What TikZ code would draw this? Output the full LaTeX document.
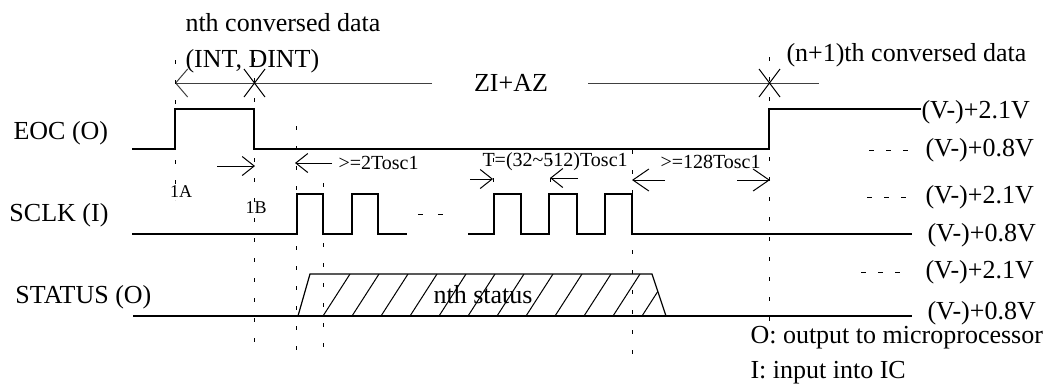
\documentclass[tikz,border=0pt]{standalone}
\usepackage{fontspec}
\setmainfont{Liberation Serif}
\usepackage{tikz}
\usetikzlibrary{arrows.meta}
\usetikzlibrary{positioning}

\begin{document}
\begin{tikzpicture}[x=0.5pt,y=-0.5pt,line width=0.5pt,
	sig/.style={line width=0.6pt},
	guide/.style={line width=0.5pt,dash pattern=on 2pt off 8pt},
	lvl/.style={line width=0.5pt,dash pattern=on 2.5pt off 6pt},
	tipsmall/.style={-{Straight Barb[length=6pt,width=9.5pt]}},
	tipbig/.style={-{Straight Barb[length=8pt,width=11pt]}},
	tiptop/.style={-{Straight Barb[length=6pt,width=14pt]}},
	lbl/.style={font=\fontsize{13}{15}\selectfont,inner sep=0pt},
	note/.style={font=\fontsize{10}{12}\selectfont,inner sep=0pt},
	tag/.style={font=\fontsize{9}{11}\selectfont,inner sep=0pt}]
	\useasboundingbox (0,0) rectangle (1048,388);
	% signal names
	\node[lbl,anchor=west] (eoc) at (13,133) {EOC (O)};
	\node[lbl,anchor=west] (sclk) at (9,215) {SCLK (I)};
	\node[lbl,anchor=west] (status) at (15,297) {STATUS (O)};
	% levels
	\node[lbl,anchor=west] (eochi) at (921,112) {(V-)+2.1V};
	\node[lbl,anchor=west] (eoclo) at (925,150) {(V-)+0.8V};
	\node[lbl,anchor=west] (sclkhi) at (925,197) {(V-)+2.1V};
	\node[lbl,anchor=west] (sclklo) at (927,235) {(V-)+0.8V};
	\node[lbl,anchor=west] (sthi) at (925,272) {(V-)+2.1V};
	\node[lbl,anchor=west] (stlo) at (927,313) {(V-)+0.8V};
	\draw[lvl] ([xshift=-28pt]eoclo.west) -- ([xshift=-8pt]eoclo.west);
	\draw[lvl] ([xshift=-29pt]sclkhi.west) -- ([xshift=-9pt]sclkhi.west);
	\draw[lvl] ([xshift=-32pt]sthi.west) -- ([xshift=-12pt]sthi.west);
	% top
	\node[lbl,anchor=base west] (ndata) at (185,31) {nth conversed data};
	\node[lbl,anchor=base west] (intd) at (185,67) {(INT, DINT)};
	\node[lbl,anchor=west] (n1data) at (786,55) {(n+1)th conversed data};
	\node[lbl] (ziaz) at (511,83) {ZI+AZ};
	\coordinate (zl) at (175,83);
	\coordinate (zgl) at (432,83);
	\coordinate (zgr) at (588,83);
	\coordinate (zr) at (819,83);
	\path (zgl) edge[tiptop,black!75] (zl)
		(zgr) edge[black!75] (zr);
	\draw (244,69) -- (265,97) (244,97) -- (265,69);
	\draw (759,69) -- (780,97) (759,97) -- (780,69);
	% guides
	\draw[guide] (175,60) -- (175,200);
	\draw[guide] (254,58) -- (254,355);
	\draw[guide] (296,126) -- (296,353);
	\draw[guide] (323,183) -- (323,360);
	\draw[guide] (493,158) -- (493,194);
	\draw[guide] (550,158) -- (550,194);
	\draw[guide] (632,150) -- (632,357);
	\draw[guide] (769,57) -- (769,330);
	% EOC
	\draw[sig] (132,149) -- (175,149) -- (175,109) -- (254,109) -- (254,149)
		-- (769,149) -- (769,109) -- (eochi.west |- 0,109);
	% SCLK
	\draw[sig] (132,234) -- (297,234) -- (297,194) -- (323,194) -- (323,234)
		-- (352,234) -- (352,194) -- (378,194) -- (378,234) -- (407,234);
	\draw (418,214) -- (423,214) (438,214) -- (443,214);
	\draw[sig] (468,234) -- (494,234) -- (494,194) -- (521,194) -- (521,234)
		-- (549,234) -- (549,194) -- (577,194) -- (577,234) -- (605,234)
		-- (605,194) -- (632,194) -- (632,234) -- (912,234);
	% STATUS
	\draw[sig] (133,316) -- (912,316);
	\draw[sig] (298,316) -- (310,274) -- (652,274) -- (666,316);
	\begin{scope}
		\clip (298,316) -- (310,274) -- (652,274) -- (666,316) -- cycle;
		\draw (323,316) -- ++(27,-42) (352,316) -- ++(27,-42)
			(381,316) -- ++(27,-42) (410,316) -- ++(27,-42)
			(439,316) -- ++(27,-42) (468,316) -- ++(27,-42)
			(497,316) -- ++(27,-42) (526,316) -- ++(27,-42)
			(555,316) -- ++(27,-42) (584,316) -- ++(27,-42)
			(613,316) -- ++(27,-42) (642,316) -- ++(27,-42);
	\end{scope}
	\node[lbl] (nstat) at (483,295) {nth status};
	% timing marks
	\node[tag] (t1a) at (181,192) {1A};
	\node[tag] (t1b) at (256,208) {1B};
	\coordinate (a1s) at (217,166);
	\coordinate (a1e) at (255,166);
	\coordinate (a2s) at (332,163);
	\coordinate (a2e) at (295,163);
	\coordinate (a3s) at (470,179);
	\coordinate (a3e) at (493,179);
	\coordinate (a4s) at (578,178);
	\coordinate (a4e) at (550,178);
	\coordinate (a5s) at (665,180);
	\coordinate (a5e) at (632,180);
	\coordinate (a6s) at (737,180);
	\coordinate (a6e) at (770,180);
	\path (a1s) edge[tipsmall] (a1e)
		(a2s) edge[tipsmall] (a2e)
		(a3s) edge[tipsmall] (a3e)
		(a4s) edge[tipsmall] (a4e)
		(a5s) edge[tipbig] (a5e)
		(a6s) edge[tipbig] (a6e);
	\node[note,anchor=west] (gt2) at (338,163) {>=2Tosc1};
	\node[note,anchor=west] (per) at (482,162) {T=(32\textasciitilde512)Tosc1};
	\node[note,anchor=west] (gt128) at (660,162) {>=128Tosc1};
	% legend
	\node[lbl,anchor=base west] (leg1) at (750,343) {O: output to microprocessor};
	\node[lbl,anchor=base west] (leg2) at (750,378) {I: input into IC};
\end{tikzpicture}
\end{document}
